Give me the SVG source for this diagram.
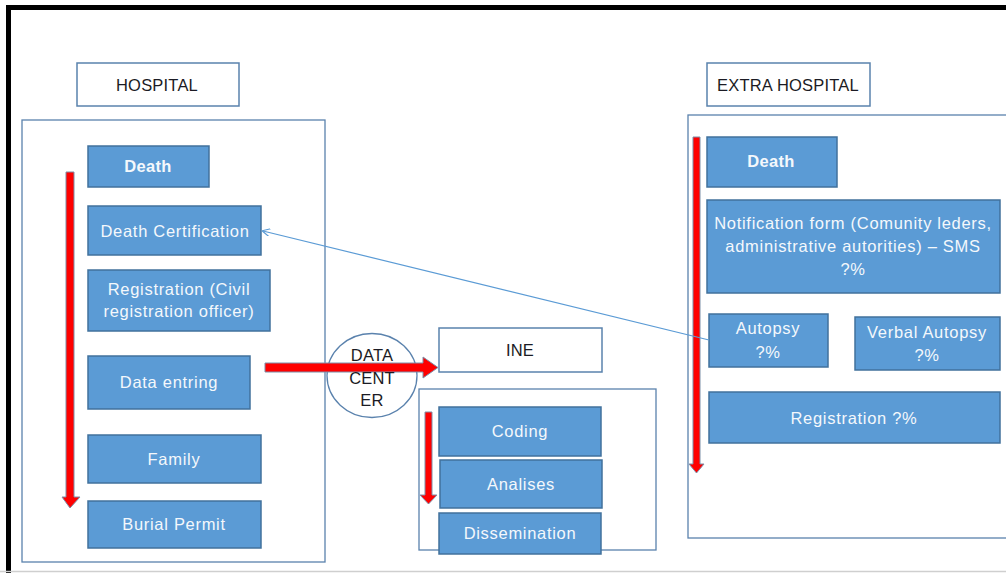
<svg xmlns="http://www.w3.org/2000/svg" width="1006" height="573" viewBox="0 0 1006 573">
<style>
.frame{fill:none;stroke:#000;stroke-width:5}
.cont{fill:#fff;stroke:#5a82ad;stroke-width:1.3}
.lbl{fill:#fff;stroke:#5a82ad;stroke-width:1.5}
.box{fill:#5b9bd5;stroke:#41719c;stroke-width:1.5}
.t{font-family:"Liberation Sans",Arial,sans-serif;font-size:16.5px;letter-spacing:0.7px;text-anchor:middle;dominant-baseline:central}
.w{fill:#f4f8fc}
.d{fill:#1b1b24;letter-spacing:0.2px}
.b{font-weight:bold;letter-spacing:0.3px}
.red{fill:#ff0000;stroke:#7d8fa8;stroke-width:1}
.thin{fill:none;stroke:#5b9bd5;stroke-width:1.2}
</style>
<defs>
<marker id="ah" markerWidth="8" markerHeight="8" refX="7" refY="4" orient="auto" markerUnits="userSpaceOnUse">
<path d="M0,0 L8,4 L0,8" fill="none" stroke="#5b9bd5" stroke-width="1.2"/>
</marker>
</defs>
<rect width="1006" height="573" fill="#fff"/>
<path class="frame" d="M8.5,576 V7.5 H1010"/>
<line x1="0" y1="571.5" x2="1006" y2="571.5" stroke="#cfcfcf" stroke-width="1.5"/>

<g id="hospital-container"><rect class="cont" x="22" y="120" width="303" height="442"/></g>
<g id="hospital-label"><rect class="lbl" x="77" y="63" width="162" height="43"/><text class="t d" x="157" y="85">HOSPITAL</text></g>
<g id="h-death"><rect class="box" x="88" y="146" width="121" height="41"/><text class="t w b" x="148" y="166">Death</text></g>
<g id="h-cert"><rect class="box" x="88" y="206" width="173" height="49"/><text class="t w" x="175" y="231">Death Certification</text></g>
<g id="h-reg"><rect class="box" x="88" y="270" width="182" height="61"/><text class="t w" x="179" y="289">Registration (Civil</text><text class="t w" x="179" y="311">registration officer)</text></g>
<g id="h-data"><rect class="box" x="88" y="356" width="162" height="53"/><text class="t w" x="169" y="382">Data entring</text></g>
<g id="h-family"><rect class="box" x="88" y="435" width="173" height="48"/><text class="t w" x="174" y="459">Family</text></g>
<g id="h-burial"><rect class="box" x="88" y="501" width="173" height="47"/><text class="t w" x="174" y="524">Burial Permit</text></g>

<g id="datacenter"><ellipse cx="372" cy="375.5" rx="45" ry="42" fill="none" stroke="#5a82ad" stroke-width="1.3"/></g>

<g id="ine-container"><rect class="cont" x="419" y="389" width="237" height="161"/></g>
<g id="ine-label"><rect class="lbl" x="439" y="328" width="163" height="44"/><text class="t d" x="520" y="350">INE</text></g>
<g id="coding"><rect class="box" x="439" y="407" width="162" height="49"/><text class="t w" x="520" y="431">Coding</text></g>
<g id="analises"><rect class="box" x="440" y="460" width="162" height="48"/><text class="t w" x="521" y="484">Analises</text></g>
<g id="dissemination"><rect class="box" x="439" y="513" width="162" height="41"/><text class="t w" x="520" y="533">Dissemination</text></g>

<g id="extra-container"><rect class="cont" x="688" y="115" width="330" height="423"/></g>
<g id="extra-label"><rect class="lbl" x="707" y="63" width="163" height="43"/><text class="t d" x="788" y="85">EXTRA HOSPITAL</text></g>
<g id="e-death"><rect class="box" x="707" y="137" width="130" height="50"/><text class="t w b" x="771" y="161">Death</text></g>
<g id="e-notif"><rect class="box" x="707" y="200" width="293" height="93"/><text class="t w" x="853" y="223">Notification form (Comunity leders,</text><text class="t w" x="853" y="246">administrative autorities) – SMS</text><text class="t w" x="853" y="269">?%</text></g>
<g id="e-autopsy"><rect class="box" x="709" y="314" width="119" height="53"/><text class="t w" x="768" y="328">Autopsy</text><text class="t w" x="768" y="352">?%</text></g>
<g id="e-verbal"><rect class="box" x="855" y="317" width="145" height="53"/><text class="t w" x="927" y="332">Verbal Autopsy</text><text class="t w" x="927" y="355">?%</text></g>
<g id="e-reg"><rect class="box" x="709" y="392" width="291" height="51"/><text class="t w" x="854" y="418">Registration ?%</text></g>

<g id="connectors">
<path class="red" d="M66,172 H74 V497 H80 L70,508 L62,497 H66 Z"/>
<path class="red" d="M425,412 H432 V495 H437 L428.5,504 L420,495 H425 Z"/>
<path class="red" d="M693,137 H700 V464 H704 L696.5,473 L689,464 H693 Z"/>
<path class="red" d="M265,363 H423 V357 L438,367.5 L423,378 V372 H265 Z"/>
<line class="thin" x1="709" y1="340" x2="263" y2="231" marker-end="url(#ah)"/>
</g>
<g id="datacenter-text">
<text class="t d" x="372" y="355">DATA</text>
<text class="t d" x="372" y="378">CENT</text>
<text class="t d" x="372" y="400">ER</text>
</g>
</svg>
